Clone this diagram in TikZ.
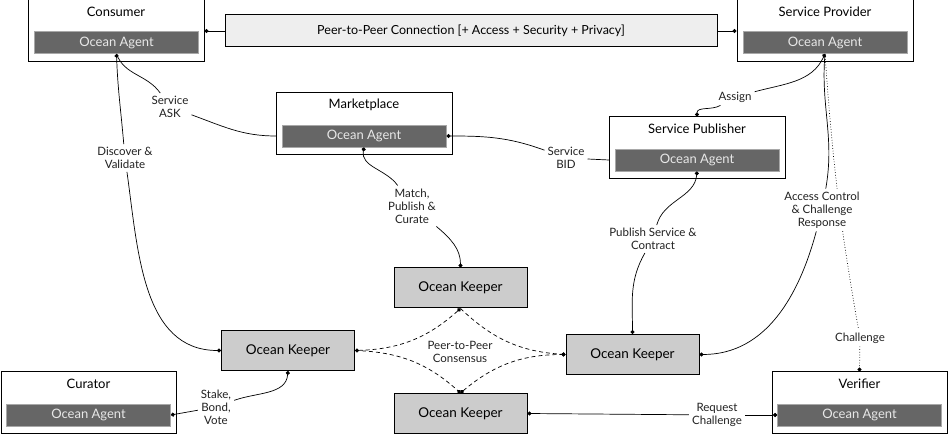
\documentclass[tikz,border=0pt]{standalone}
\usepackage{fontspec}
\setmainfont{Lato}
\usetikzlibrary{arrows.meta}

\definecolor{agentfill}{HTML}{666666}
\definecolor{agentline}{HTML}{A8A8A8}
\definecolor{agenttext}{HTML}{E8E8E8}
\definecolor{keeperfill}{HTML}{CCCCCC}
\definecolor{barfill}{HTML}{EEEEEE}
\definecolor{lbltext}{HTML}{222222}

\pgfdeclarelayer{bg}
\pgfsetlayers{bg,main}

\tikzset{
  actor/.style={draw, line width=1pt, minimum width=176pt, minimum height=62pt, inner sep=0pt},
  agent/.style={fill=agentfill, draw=agentline, line width=0.8pt, text=agenttext, minimum width=164pt, minimum height=22pt, inner sep=0pt, font=\fontsize{13}{14}\selectfont},
  keeper/.style={fill=keeperfill, draw, line width=1pt, minimum width=133pt, minimum height=40pt, font=\fontsize{13.5}{15}\selectfont},
  title/.style={font=\fontsize{13}{15}\selectfont},
  lbl/.style={fill=white, align=center, text=lbltext, inner sep=3pt, font=\fontsize{11.5}{13}\selectfont},
  link/.style={line width=0.7pt},
  dotstart/.style={{Circle[length=4pt]}-},
  dotend/.style={-{Circle[length=4pt]}},
  dotboth/.style={{Circle[length=4pt]}-{Circle[length=4pt]}}
}

\begin{document}
\begin{tikzpicture}[x=1pt,y=1pt]
\useasboundingbox (0,0) rectangle (948,-435);

% actors with their agents
\node[actor] (consumer) at (116,-31) {};
\node[title] (consumer title) at (116,-12) {Consumer};
\node[agent] (consumer agent) at (116.5,-42.5) {Ocean Agent};

\node[actor] (provider) at (825,-31) {};
\node[title] (provider title) at (825,-12) {Service Provider};
\node[agent] (provider agent) at (825,-42.5) {Ocean Agent};

\node[actor] (market) at (364,-124) {};
\node[title] (market title) at (364,-105) {Marketplace};
\node[agent] (market agent) at (364,-136) {Ocean Agent};

\node[actor] (publisher) at (697,-148) {};
\node[title] (publisher title) at (697,-129) {Service Publisher};
\node[agent] (publisher agent) at (697,-160) {Ocean Agent};

\node[actor, minimum width=175pt] (curator) at (88.5,-403) {};
\node[title] (curator title) at (88.5,-384) {Curator};
\node[agent] (curator agent) at (88.5,-415) {Ocean Agent};

\node[actor, minimum width=175pt] (verifier) at (859.5,-403) {};
\node[title] (verifier title) at (859.5,-384) {Verifier};
\node[agent] (verifier agent) at (859.5,-415) {Ocean Agent};

% peer-to-peer bar
\node[draw, fill=barfill, line width=1pt, minimum width=492pt, minimum height=32pt, font=\fontsize{12.5}{14}\selectfont] (p2p) at (471,-31) {Peer-to-Peer Connection [+ Access + Security + Privacy]};

% keepers
\node[keeper] (ktop) at (460.5,-288) {Ocean Keeper};
\node[keeper] (kleft) at (288,-350.5) {Ocean Keeper};
\node[keeper] (kright) at (632.5,-354.5) {Ocean Keeper};
\node[keeper] (kbot) at (460.5,-413.5) {Ocean Keeper};

% labels
\node[lbl] (lDiscover) at (125,-158) {Discover \&\\Validate};
\node[lbl] (lAsk) at (170,-107) {Service\\ASK};
\node[lbl] (lBid) at (566,-158) {Service\\BID};
\node[lbl] (lMatch) at (412,-206) {Match,\\Publish \&\\Curate};
\node[lbl] (lAssign) at (735,-97) {Assign};
\node[lbl] (lAccess) at (822,-210) {Access Control\\\& Challenge\\Response};
\node[lbl] (lChallenge) at (860,-338) {Challenge};
\node[lbl] (lPubSvc) at (653,-239) {Publish Service \&\\Contract};
\node[lbl] (lStake) at (216,-407) {Stake,\\Bond,\\Vote};
\node[lbl] (lRequest) at (717,-415) {Request\\Challenge};
\node[lbl, fill=none] (lConsensus) at (460,-352) {Peer-to-Peer\\Consensus};

\coordinate (market in) at (276,-136);
\coordinate (publisher in) at (609,-160);

% connections
\draw[link,dotstart] (consumer.east) -- (p2p.west);
\draw[link,dotend] (p2p.east) -- (provider.west);

\draw[link,dotstart] (consumer agent.south) to[out=-88,in=95] (lDiscover);
\draw[link,dotend] (lDiscover) to[out=-82,in=180] (kleft.west);
\draw[link] (consumer agent.south) to[out=-70,in=125] (lAsk);
\draw[link] (lAsk) to[out=-20,in=180] (market in);

\draw[link,dotstart] (market agent.east) to[out=0,in=160] (lBid);
\draw[link] (lBid) -- (publisher in);
\draw[link,dotstart] (market agent.south) to[out=-100,in=125] (lMatch);
\draw[link,dotend] (lMatch) to[out=-40,in=90] (ktop.north);

\draw[link,dotstart] (provider agent.south) to[out=-115,in=15] (lAssign);
\draw[link,dotend] (lAssign) to[out=-150,in=90] (publisher.north);
\draw[link] (provider agent.south) to[out=-95,in=80] (lAccess);
\draw[link,dotend] (lAccess) to[out=-105,in=0] (kright.east);
\begin{pgfonlayer}{bg}
\draw[link,dotted] (provider agent.south) to[out=-86,in=100] (lChallenge);
\end{pgfonlayer}
\draw[link,dotted,dotend] (lChallenge) -- (verifier.north);

\draw[link,dotstart] (publisher agent.south) to[out=-95,in=75] (lPubSvc);
\draw[link,dotend] (lPubSvc) to[out=-120,in=90] (kright.north);

\draw[link,dotend] (lStake) -- (curator agent.east);
\draw[link,dotend] (lStake) to[out=20,in=-95] (kleft.south);

\draw[link,dotstart] (kbot.east) -- (lRequest);
\draw[link,dotend] (lRequest) -- (verifier agent.west);

% consensus
\draw[link,dash pattern=on 4pt off 3pt,dotboth] (kleft.east) to[bend right=20] (ktop.south);
\draw[link,dash pattern=on 4pt off 3pt,dotend] (kleft.east) to[bend left=20] (kbot.north);
\draw[link,dash pattern=on 4pt off 3pt,dotend] (ktop.south) to[bend right=20] (kright.west);
\draw[link,dash pattern=on 4pt off 3pt,dotboth] (kbot.north) to[bend left=20] (kright.west);
\end{tikzpicture}
\end{document}
